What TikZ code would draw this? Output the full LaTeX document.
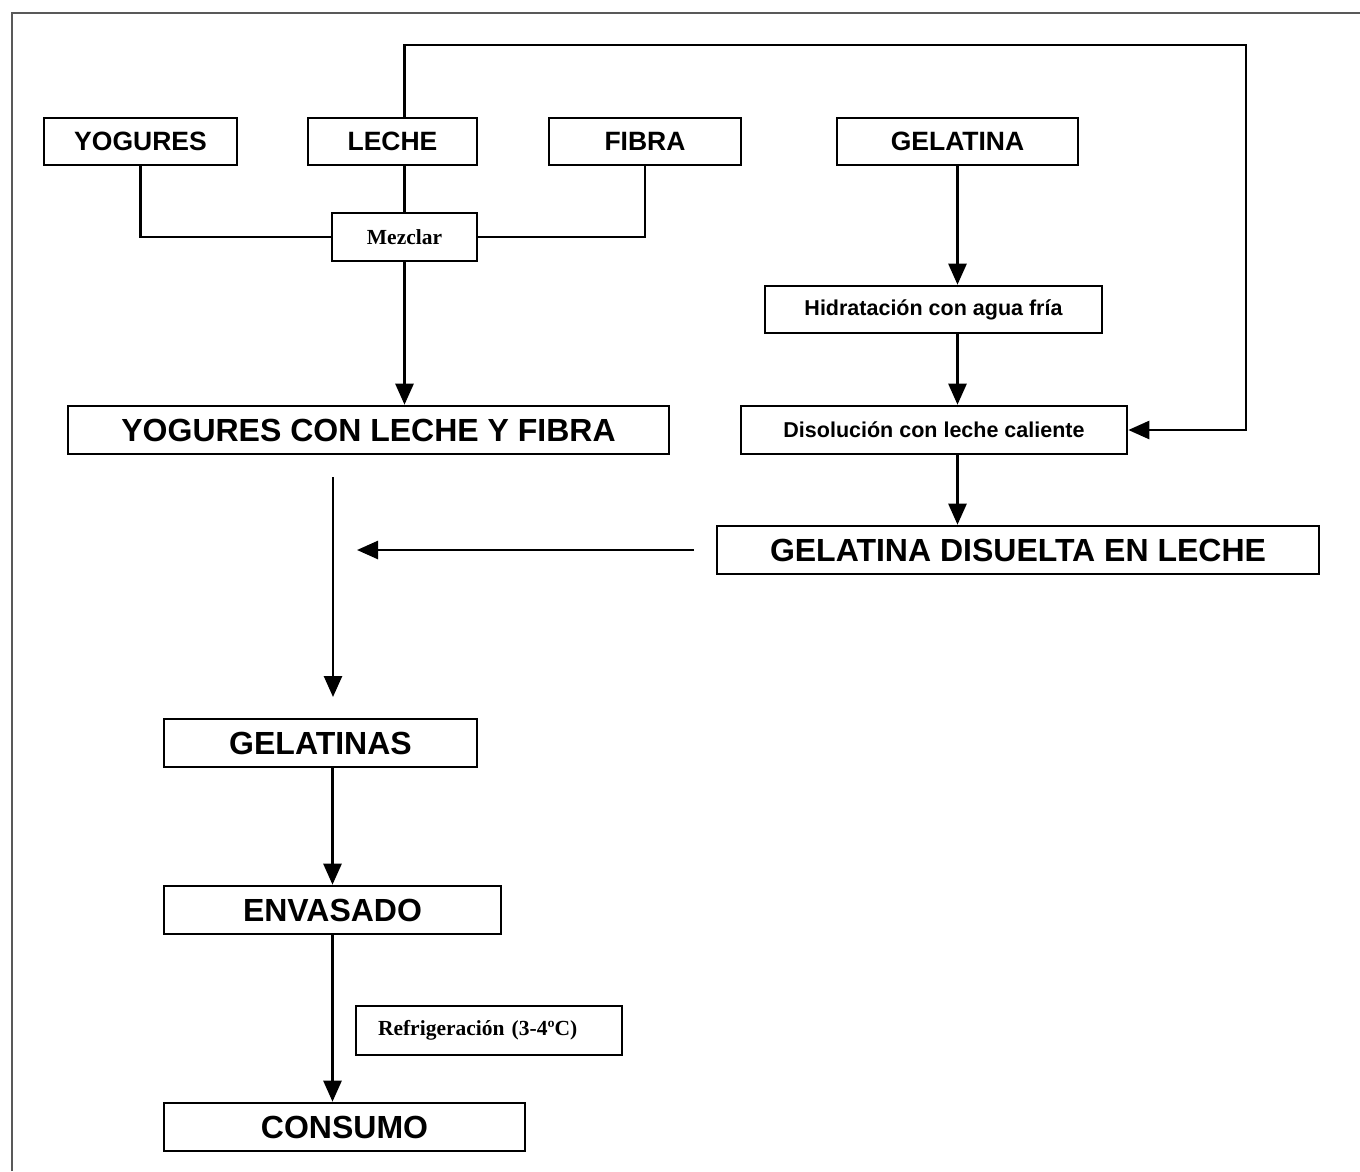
\documentclass[tikz,border=0pt]{standalone}
\usepackage{fontspec}
\setmainfont{Liberation Sans}
\newfontfamily\serifb{Liberation Serif}
\usetikzlibrary{arrows.meta}
\begin{document}
\begin{tikzpicture}[x=1pt,y=-1pt,
  box/.style={draw, line width=2.6pt, inner sep=0pt, align=center},
  fmid/.style={font=\bfseries\fontsize{26.5}{30}\selectfont},
  fbig/.style={font=\bfseries\fontsize{32}{36}\selectfont},
  fsmall/.style={font=\bfseries\fontsize{21.5}{25}\selectfont},
  fserif/.style={font=\serifb\bfseries\fontsize{21.5}{25}\selectfont},
  conn/.style={line width=2.6pt},
  arr/.style={line width=2.6pt, -{Triangle[width=18pt,length=21pt]}}]
\useasboundingbox[fill=white] (0,0) rectangle (1360,1171);
\draw[line width=2pt, black!65] (12,1171) -- (12,13) -- (1360,13);

\node[box,fmid,minimum width=193,minimum height=47] (yog) at (140.5,141.5) {YOGURES};
\node[box,fmid,minimum width=169,minimum height=47] (lec) at (392.5,141.5) {LECHE};
\node[box,fmid,minimum width=192,minimum height=47] (fib) at (645,141.5) {FIBRA};
\node[box,fmid,minimum width=241,minimum height=47] (gel) at (957.5,141.5) {GELATINA};
\node[box,fserif,minimum width=145,minimum height=48] (mez) at (404.5,237) {Mezclar};
\node[box,fbig,minimum width=601,minimum height=48] (ycl) at (368.5,430) {YOGURES CON LECHE Y FIBRA};
\node[box,fsmall,minimum width=337,minimum height=47] (hid) at (933.5,309.5) {Hidratación con agua fría};
\node[box,fsmall,minimum width=386,minimum height=48] (dis) at (934,430) {Disolución con leche caliente};
\node[box,fbig,minimum width=602,minimum height=48] (gdl) at (1018,550) {GELATINA DISUELTA EN LECHE};
\node[box,fbig,minimum width=313,minimum height=48] (gels) at (320.5,743) {GELATINAS};
\node[box,fbig,minimum width=337,minimum height=48] (env) at (332.5,910) {ENVASADO};
\node[box,fserif,minimum height=49,inner xsep=22pt,text width=222pt,align=left] (ref) at (489,1030.5) {Refrigeración (3-4ºC)};
\node[box,fbig,minimum width=361,minimum height=48] (con) at (344.5,1127) {CONSUMO};

\coordinate (loop) at (1246,45);
\coordinate (hs) at (694,550);
\coordinate (he) at (357,550);
\coordinate (vs) at (333,477);
\coordinate (ve) at (333,697);

\draw[conn] (yog.south) |- (mez.west);
\draw[conn] (lec.south -| mez.north) -- (mez.north);
\draw[conn] (fib.south) |- (mez.east);
\draw[arr] (mez.south) -- (mez.south |- ycl.north);
\draw[arr] (lec.north -| mez.north) |- (loop) |- (dis.east);
\draw[arr] (gel.south) -- (gel.south |- hid.north);
\draw[arr] (hid.south -| gel.south) -- (dis.north -| gel.south);
\draw[arr] (dis.south -| gel.south) -- (gdl.north -| gel.south);
\draw[arr] (hs) -- (he);
\draw[arr] (vs) -- (ve);
\draw[arr] (gels.south -| env.north) -- (env.north);
\draw[arr] (env.south) -- (con.north -| env.south);
\end{tikzpicture}
\end{document}
